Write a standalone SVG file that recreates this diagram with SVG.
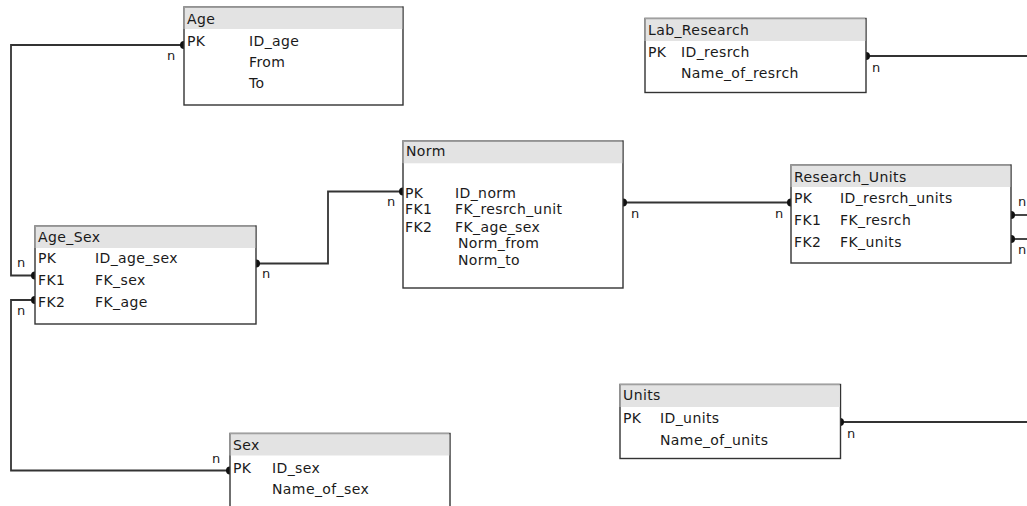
<svg xmlns="http://www.w3.org/2000/svg" width="1027" height="506" viewBox="0 0 1027 506">
<style>
text{font-family:"DejaVu Sans","Liberation Sans",sans-serif;font-size:14px;letter-spacing:0.4px;fill:#1a1a1a}
.box{fill:#fff;stroke:#333;stroke-width:1.4}
.hdr{fill:#e3e3e3;stroke:none}
.top{stroke:#a0a0a0;stroke-width:1.4;fill:none}
.conn{fill:none;stroke:#333;stroke-width:1.8}
.dot{fill:#111}
.n{font-size:13px;letter-spacing:0}
</style>
<rect width="1027" height="506" fill="#fff"/>
<g id="connectors">
<polyline class="conn" points="184,45 11,45 11,275.5 35,275.5"/>
<polyline class="conn" points="35,300 11,300 11,470.5 230,470.5"/>
<polyline class="conn" points="256,263.5 328,263.5 328,191.5 403,191.5"/>
<polyline class="conn" points="623,202.5 791,202.5"/>
<polyline class="conn" points="1011,215 1027,215"/>
<polyline class="conn" points="1011,239 1027,239"/>
<polyline class="conn" points="866,56 1027,56"/>
<polyline class="conn" points="840,422 1027,422"/>
<circle class="dot" cx="184" cy="45" r="4"/>
<circle class="dot" cx="35" cy="275.5" r="4"/>
<circle class="dot" cx="35" cy="300" r="4"/>
<circle class="dot" cx="230" cy="470.5" r="4"/>
<circle class="dot" cx="256" cy="263.5" r="4"/>
<circle class="dot" cx="403" cy="191.5" r="4"/>
<circle class="dot" cx="623" cy="202.5" r="4"/>
<circle class="dot" cx="791" cy="202.5" r="4"/>
<circle class="dot" cx="1011" cy="215" r="4"/>
<circle class="dot" cx="1011" cy="239" r="4"/>
<circle class="dot" cx="866" cy="56" r="4"/>
<circle class="dot" cx="840" cy="422" r="4"/>
<text class="n" x="167" y="60">n</text>
<text class="n" x="17" y="267">n</text>
<text class="n" x="17" y="315">n</text>
<text class="n" x="212" y="463">n</text>
<text class="n" x="262" y="278">n</text>
<text class="n" x="387" y="206">n</text>
<text class="n" x="631" y="218">n</text>
<text class="n" x="775" y="218">n</text>
<text class="n" x="1018" y="206">n</text>
<text class="n" x="1018" y="254">n</text>
<text class="n" x="872" y="72">n</text>
<text class="n" x="847" y="438">n</text>
</g>
<g id="Age">
<rect class="box" x="184" y="7" width="219" height="98"/>
<rect class="hdr" x="184.7" y="7.7" width="217.6" height="21.3"/>
<polyline class="top" points="184,29 184,7 402.3,7"/>
<text x="187" y="24">Age</text>
<text x="187" y="46">PK</text><text x="249" y="46">ID_age</text>
<text x="249" y="67">From</text>
<text x="249" y="88">To</text>
</g>
<g id="Age_Sex">
<rect class="box" x="35" y="226" width="221" height="98"/>
<rect class="hdr" x="35.7" y="226.7" width="219.6" height="21.3"/>
<polyline class="top" points="35,248 35,226 255.3,226"/>
<text x="38" y="242">Age_Sex</text>
<text x="38" y="263">PK</text><text x="95" y="263">ID_age_sex</text>
<text x="38" y="285">FK1</text><text x="95" y="285">FK_sex</text>
<text x="38" y="307">FK2</text><text x="95" y="307">FK_age</text>
</g>
<g id="Norm">
<rect class="box" x="403" y="141" width="220" height="147"/>
<rect class="hdr" x="403.7" y="141.7" width="218.6" height="21.6"/>
<polyline class="top" points="403,163 403,141 622.3,141"/>
<text x="406" y="156">Norm</text>
<text x="405" y="198">PK</text><text x="455" y="198">ID_norm</text>
<text x="405" y="214">FK1</text><text x="455" y="214">FK_resrch_unit</text>
<text x="405" y="232">FK2</text><text x="455" y="232">FK_age_sex</text>
<text x="458" y="248">Norm_from</text>
<text x="458" y="265">Norm_to</text>
</g>
<g id="Research_Units">
<rect class="box" x="791" y="165" width="220" height="98"/>
<rect class="hdr" x="791.7" y="165.7" width="218.6" height="21.3"/>
<polyline class="top" points="791,187 791,165 1010.3,165"/>
<text x="794" y="182">Research_Units</text>
<text x="794" y="203">PK</text><text x="840" y="203">ID_resrch_units</text>
<text x="794" y="225">FK1</text><text x="840" y="225">FK_resrch</text>
<text x="794" y="247">FK2</text><text x="840" y="247">FK_units</text>
</g>
<g id="Lab_Research">
<rect class="box" x="645" y="18.5" width="221" height="74"/>
<rect class="hdr" x="645.7" y="19.2" width="219.6" height="21.8"/>
<polyline class="top" points="645,41 645,18.5 865.3,18.5"/>
<text x="648" y="35">Lab_Research</text>
<text x="648" y="57">PK</text><text x="681" y="57">ID_resrch</text>
<text x="681" y="78">Name_of_resrch</text>
</g>
<g id="Units">
<rect class="box" x="620" y="384.5" width="220.5" height="74"/>
<rect class="hdr" x="620.7" y="385.2" width="219.1" height="21.8"/>
<polyline class="top" points="620,407 620,384.5 839.8,384.5"/>
<text x="623" y="400">Units</text>
<text x="623" y="423">PK</text><text x="660" y="423">ID_units</text>
<text x="660" y="445">Name_of_units</text>
</g>
<g id="Sex">
<rect class="box" x="230" y="433.5" width="220" height="80"/>
<rect class="hdr" x="230.7" y="434.2" width="218.6" height="21.3"/>
<polyline class="top" points="230,455.5 230,433.5 449.3,433.5"/>
<text x="233" y="450">Sex</text>
<text x="233" y="473">PK</text><text x="272" y="473">ID_sex</text>
<text x="272" y="494">Name_of_sex</text>
</g>
</svg>
